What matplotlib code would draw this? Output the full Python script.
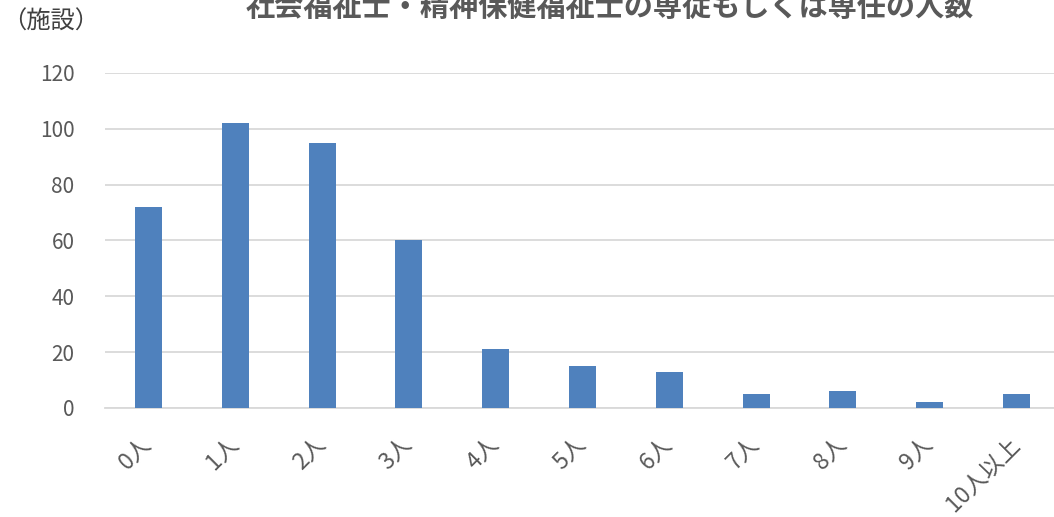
import matplotlib
matplotlib.use("Agg")
import matplotlib.pyplot as plt

plt.rcParams['font.family'] = ['Noto Sans CJK JP', 'DejaVu Sans']

categories = ["0人", "1人", "2人", "3人", "4人", "5人", "6人", "7人", "8人", "9人", "10人以上"]
counts = [72, 102, 95, 60, 21, 15, 13, 5, 6, 2, 5]
y_ticks = [0, 20, 40, 60, 80, 100, 120]

W, H = 1054, 517
fig = plt.figure(figsize=(W / 100, H / 100), dpi=100)
ax = fig.add_axes([105 / W, (H - 408) / H, (1060 - 105) / W, (408 - 73) / H])

text_color = "#595959"
grid_color = "#d9d9d9"
bar_color = "#4f81bd"

x = range(len(categories))
ax.bar(x, counts, width=0.31, color=bar_color, zorder=3)

ax.set_xlim(-0.5, len(categories) - 0.5)
ax.set_ylim(0, 120)
ax.set_yticks(y_ticks)
ax.set_yticklabels([str(v) for v in y_ticks], fontsize=15, color=text_color)
ax.set_xticks(list(x))
ax.set_xticklabels(categories, fontsize=16.5, color=text_color,
                   rotation=45, ha="right", va="center", rotation_mode="anchor")
ax.tick_params(axis="both", length=0)
ax.tick_params(axis="y", pad=22)
ax.tick_params(axis="x", pad=24)

ax.grid(axis="y", color=grid_color, linewidth=1.3, zorder=0)
for side in ["top", "right", "left"]:
    ax.spines[side].set_visible(False)
ax.spines["bottom"].set_color(grid_color)
ax.spines["bottom"].set_linewidth(1.3)

fig.text(610 / W, (H - 16) / H, "社会福祉士・精神保健福祉士の専従もしくは専任の人数",
         fontsize=21, fontweight="bold", color=text_color, ha="center", va="baseline")
fig.text(2 / W, (H - 22) / H, "（施設）", fontsize=17.5, color="#404040",
         ha="left", va="center")

fig.savefig("out.png", dpi=100)
